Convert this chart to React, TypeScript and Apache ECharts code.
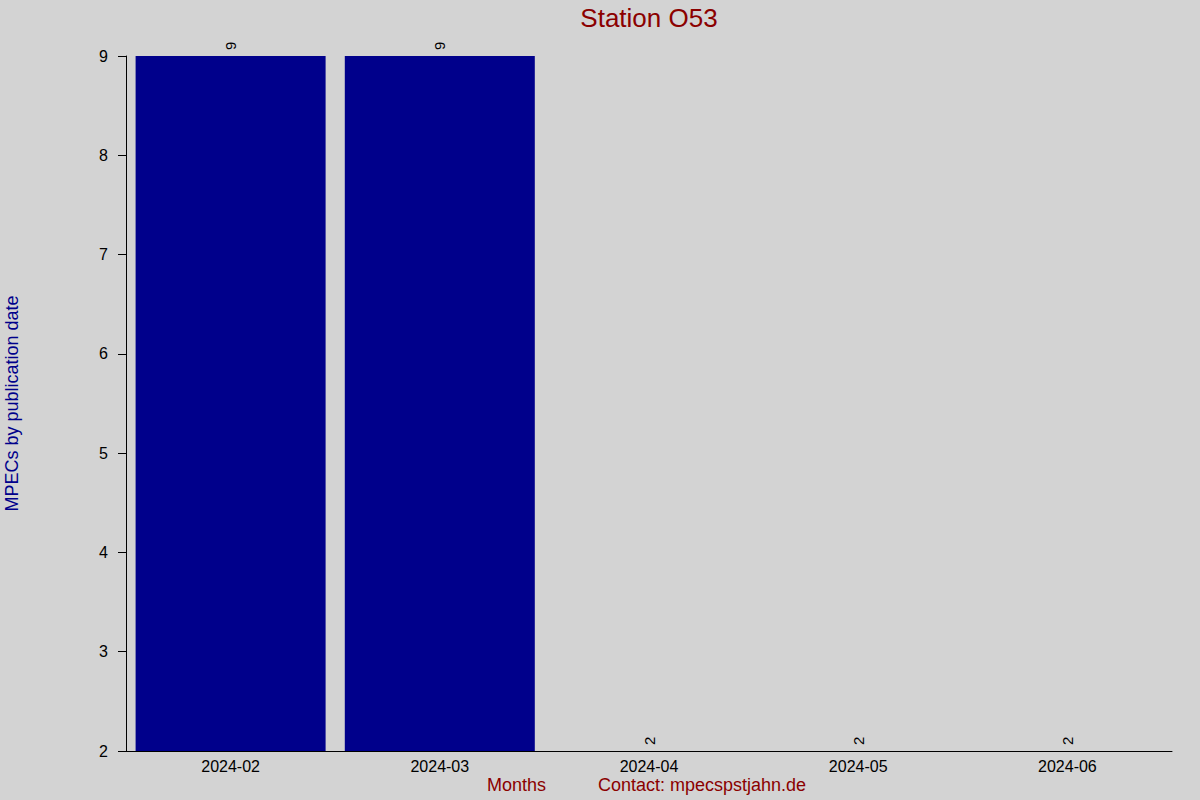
import React, { useEffect, useRef } from "react";
import * as echarts from "echarts";

const months = ["2024-02", "2024-03", "2024-04", "2024-05", "2024-06"];
const counts = [9, 9, 2, 2, 2];
const yMin = 2;
const yMax = 9;

const App: React.FC = () => {
  const chartRef = useRef<HTMLDivElement | null>(null);

  useEffect(() => {
    if (!chartRef.current) return;
    const chart = echarts.init(chartRef.current, undefined, { renderer: "svg" });

    const font = "'Liberation Sans', Arial, sans-serif";

    const options = {
      animation: false,
      backgroundColor: "#D3D3D3",
      textStyle: { fontFamily: font },
      grid: {
        left: 126,
        right: 28,
        top: 56,
        bottom: 49,
        containLabel: false,
        outerBoundsMode: "none",
      },
      xAxis: {
        type: "category",
        data: months,
        axisLine: { show: true, lineStyle: { color: "#000", width: 1 } },
        axisTick: { show: false },
        axisLabel: { color: "#000", fontSize: 16, margin: 7, fontFamily: font },
      },
      yAxis: {
        type: "value",
        min: yMin,
        max: yMax,
        interval: 1,
        name: "MPECs by publication date",
        nameLocation: "middle",
        nameGap: 105,
        nameRotate: 90,
        nameTextStyle: { color: "#00008B", fontSize: 18, fontFamily: font },
        axisLine: { show: true, lineStyle: { color: "#000", width: 1 } },
        axisTick: { show: true, inside: false, length: 8, lineStyle: { color: "#000" } },
        axisLabel: { color: "#000", fontSize: 16, margin: 18, fontFamily: font },
        splitLine: { show: false },
      },
      series: [
        {
          type: "bar",
          data: counts,
          barWidth: 190,
          itemStyle: { color: "#00008B" },
          label: {
            show: true,
            position: "top",
            rotate: 90,
            align: "left",
            verticalAlign: "middle",
            distance: 6,
            color: "#000",
            fontSize: 15,
            fontFamily: font,
          },
        },
      ],
      graphic: [
        {
          type: "text",
          x: 649,
          y: 5,
          style: {
            text: "Station O53",
            fill: "#8B0000",
            font: `26px ${font}`,
            textAlign: "center",
            textVerticalAlign: "top",
          },
        },
        {
          type: "text",
          x: 487,
          y: 776,
          style: { text: "Months", fill: "#8B0000", font: `18px ${font}` },
        },
        {
          type: "text",
          x: 598,
          y: 776,
          style: { text: "Contact: mpecspstjahn.de", fill: "#8B0000", font: `18px ${font}` },
        },
      ],
    };

    chart.setOption(options);

    const onResize = () => chart.resize();
    window.addEventListener("resize", onResize);

    return () => {
      window.removeEventListener("resize", onResize);
      chart.dispose();
    };
  }, []);

  return (
    <div
      ref={chartRef}
      style={{ position: "fixed", left: 0, top: 0, width: "1200px", height: "800px" }}
    />
  );
};

export default App;
